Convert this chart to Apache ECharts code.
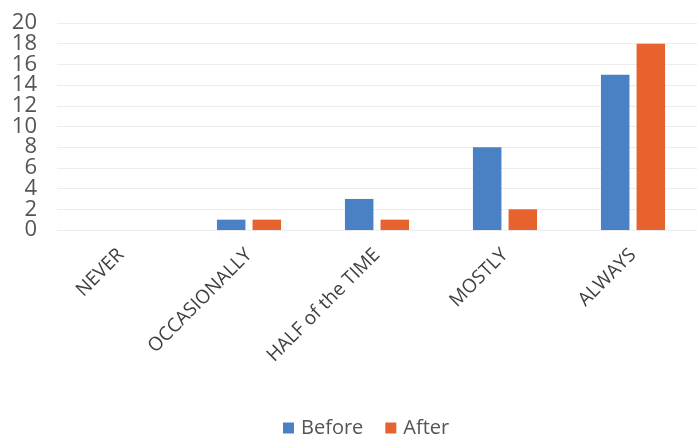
<!DOCTYPE html>
<html>
<head>
<meta charset="utf-8">
<script src="https://cdn.jsdelivr.net/npm/echarts@6/dist/echarts.min.js"></script>
<style>
  html, body { margin: 0; padding: 0; background: #fff; }
  #chart { width: 697px; height: 438px; }
</style>
</head>
<body>
<div id="chart"></div>
<script>
const categories = ['NEVER', 'OCCASIONALLY', 'HALF of the TIME', 'MOSTLY', 'ALWAYS'];
const beforeValues = [0, 1, 3, 8, 15];
const afterValues = [0, 1, 1, 2, 18];
const yTickValues = [0, 2, 4, 6, 8, 10, 12, 14, 16, 18, 20];

const chart = echarts.init(document.getElementById('chart'));
const fontFamily = '"Open Sans", Lato, sans-serif';

// The tick labels are packed tightly, so they are split over two
// overlaid axes (alternate ticks) to keep every one of them visible.
const evenTicks = yTickValues.filter((v, i) => i % 2 === 0);
const oddTicks = yTickValues.filter((v, i) => i % 2 === 1);
const yMin = yTickValues[0];
const yMax = yTickValues[yTickValues.length - 1];
const yStep = yTickValues[1] - yTickValues[0];

const labelStyle = { fontSize: 22, color: '#555', fontFamily: fontFamily, margin: 20 };

chart.setOption({
  animation: false,
  textStyle: { fontFamily: fontFamily },
  grid: { left: 57, top: 23, width: 648, height: 207, containLabel: false },
  legend: {
    left: 283,
    top: 418,
    padding: 0,
    itemWidth: 11,
    itemHeight: 11,
    itemGap: 22,
    icon: 'rect',
    textStyle: { fontSize: 20, color: '#555', fontFamily: fontFamily, padding: [0, 0, 0, 2] },
    data: ['Before', 'After']
  },
  xAxis: {
    type: 'category',
    data: categories,
    axisLine: { show: false },
    axisTick: { show: false },
    axisLabel: {
      rotate: 45,
      margin: 22,
      fontSize: 19,
      color: '#404040',
      interval: 0
    }
  },
  yAxis: [
    {
      type: 'value',
      position: 'left',
      min: yMin,
      max: yMax,
      interval: yStep,
      axisLine: { show: false },
      axisTick: { show: false },
      axisLabel: Object.assign({ customValues: evenTicks }, labelStyle),
      splitLine: { lineStyle: { color: '#ececec', width: 1 } }
    },
    {
      type: 'value',
      position: 'left',
      offset: 0,
      min: yMin,
      max: yMax,
      interval: yStep,
      axisLine: { show: false },
      axisTick: { show: false },
      axisLabel: Object.assign({ customValues: oddTicks }, labelStyle),
      splitLine: { show: false }
    }
  ],
  series: [
    {
      name: 'Before',
      type: 'bar',
      data: beforeValues,
      barWidth: 28.5,
      barGap: '25%',
      itemStyle: { color: '#4a80c4' }
    },
    {
      name: 'After',
      type: 'bar',
      data: afterValues,
      barWidth: 28.5,
      barGap: '25%',
      itemStyle: { color: '#e8622e' }
    }
  ]
});
</script>
</body>
</html>
